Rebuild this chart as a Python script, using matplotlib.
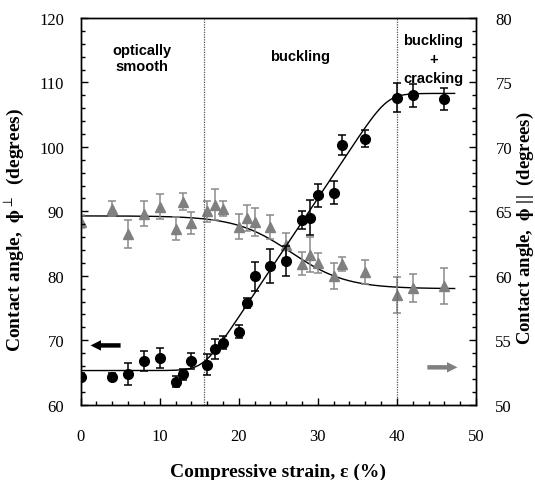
import numpy as np
import matplotlib
matplotlib.use("Agg")
import matplotlib.pyplot as plt
from matplotlib.ticker import MultipleLocator

plt.rcParams['mathtext.fontset'] = 'stix'

# ---- data ----
strain = [0, 4, 6, 8, 10, 12, 13, 14, 16, 17, 18, 20, 21, 22, 24, 26, 28, 29, 30, 32, 33, 36, 40, 42, 46]
phi_perp = [64.35, 64.35, 64.8, 66.8, 67.3, 63.6, 64.7, 66.8, 66.2, 68.6, 69.6, 71.3, 75.8, 79.9, 81.5,
            82.3, 88.6, 89.0, 92.5, 92.9, 100.3, 101.3, 107.65, 108.0, 107.4]
phi_perp_err = [0.5, 0.5, 1.7, 1.5, 1.55, 0.8, 0.8, 1.3, 1.6, 1.55, 1.0, 1.0, 0.8, 2.3, 2.6,
                2.4, 1.4, 2.7, 1.8, 1.8, 1.6, 1.3, 2.2, 1.8, 1.7]
phi_par = [64.21, 65.22, 63.22, 64.83, 65.35, 63.66, 65.74, 64.1, 65.0, 65.53, 65.22, 63.8, 64.5, 64.18, 63.8,
           62.36, 60.94, 61.64, 61.02, 59.98, 60.94, 60.3, 58.5, 59.04, 59.2]
phi_par_err = [0.5, 0.58, 1.09, 1.0, 0.97, 0.92, 0.65, 0.86, 0.82, 1.2, 0.58, 0.97, 1.0, 1.1, 0.95,
               1.0, 0.9, 1.35, 0.78, 1.0, 0.55, 0.93, 1.4, 1.1, 1.4]

# fit-curve parameters
perp_low, perp_high, perp_start, perp_end, perp_round = 65.3, 108.3, 15.5, 38.8, 1.0
par_high, par_low, par_center, par_width = 64.65, 59.0, 26.6, 3.5
fit_range = (0, 47.3)

region_bounds = [15.6, 40.0]
region_labels = ["optically\nsmooth", "buckling", "buckling\n+\ncracking"]

# ---- figure ----
fig = plt.figure(figsize=(5.35, 4.81), dpi=100)
ax = fig.add_axes([0.1508, 0.1565, 0.7389, 0.8040])
ax2 = ax.twinx()

serif = ['Liberation Serif', 'DejaVu Serif']
sans = ['Liberation Sans', 'DejaVu Sans']

xf = np.linspace(fit_range[0], fit_range[1], 400)
def softplus(z):
    return np.logaddexp(0, z)
slope = (perp_high - perp_low) / (perp_end - perp_start)
yperp = perp_low + slope * perp_round * (softplus((xf - perp_start) / perp_round)
                                        - softplus((xf - perp_end) / perp_round))
ypar = par_high + (par_low - par_high) / (1 + np.exp(-(xf - par_center) / par_width))

ax.plot(xf, yperp, color='black', lw=1.0, zorder=2)
ax2.plot(xf, ypar, color='black', lw=1.0, zorder=2)

for b in region_bounds:
    ax.axvline(b, color='#555555', lw=0.9, ls=(0, (1, 1)), zorder=1)

gray = '#808080'
ax2.errorbar(strain, phi_par, yerr=phi_par_err, fmt='^', color=gray, ms=7.5, mec=gray, mfc=gray,
             ecolor='#8a8a8a', elinewidth=1.1, capsize=3, capthick=1.1, zorder=3)
ax.errorbar(strain, phi_perp, yerr=phi_perp_err, fmt='o', color='black', ms=7,
            ecolor='black', elinewidth=1.1, capsize=3, capthick=1.1, zorder=4)

# put primary axes above twin so circles draw over triangles
ax.set_zorder(ax2.get_zorder() + 1)
ax.patch.set_visible(False)

# arrows
ax.annotate('', xy=(0.9, 69.2), xytext=(5.4, 69.2),
            arrowprops=dict(arrowstyle='simple,head_length=0.75,head_width=0.75,tail_width=0.32',
                            color='black', lw=0, mutation_scale=10))
ax2.annotate('', xy=(48.0, 52.9), xytext=(43.5, 52.9),
             arrowprops=dict(arrowstyle='simple,head_length=0.75,head_width=0.75,tail_width=0.32',
                             color=gray, lw=0, mutation_scale=10))

# region labels
ax.text(7.7, 113.8, region_labels[0], ha='center', va='center', fontsize=10.5,
        fontweight='bold', family=sans, linespacing=1.25)
ax.text(27.8, 114.1, region_labels[1], ha='center', va='center', fontsize=10.5,
        fontweight='bold', family=sans)
ax.text(44.6, 113.6, region_labels[2], ha='center', va='center', fontsize=10.5,
        fontweight='bold', family=sans, linespacing=1.45)

# axes limits / ticks
ax.set_xlim(0, 50)
ax.set_ylim(60, 120)
ax2.set_ylim(50, 80)
ax.xaxis.set_major_locator(MultipleLocator(10))
ax.xaxis.set_minor_locator(MultipleLocator(2))
ax.yaxis.set_major_locator(MultipleLocator(10))
ax.yaxis.set_minor_locator(MultipleLocator(2))
ax2.yaxis.set_major_locator(MultipleLocator(5))
ax2.yaxis.set_minor_locator(MultipleLocator(1))

ax.tick_params(axis='x', which='both', direction='in', top=False, pad=17)
ax.tick_params(axis='y', which='both', direction='in', right=False, pad=12)
ax2.tick_params(axis='y', which='both', direction='in', pad=14)
for a in (ax, ax2):
    a.tick_params(which='major', length=5, width=1.0, labelsize=12)
    a.tick_params(which='minor', length=3, width=1.0)
    for lab in a.get_xticklabels() + a.get_yticklabels():
        lab.set_family(serif)
    for s in a.spines.values():
        s.set_linewidth(1.0)

ax.set_xlabel('Compressive strain, ε (%)', fontsize=14, fontweight='bold', family=serif)
ax.xaxis.set_label_coords(0.5, -0.15)
ax.set_ylabel(r'Contact angle,  $\mathbf{\phi}^{\perp}$  (degrees)', fontsize=14, fontweight='bold',
              family=serif)
ax.yaxis.set_label_coords(-0.138, 0.455)
ax2.set_ylabel(r'Contact angle,  $\mathbf{\phi}$ ||  (degrees)', fontsize=13.5, fontweight='bold',
               family=serif, rotation=90)
ax2.yaxis.set_label_coords(1.098, 0.46)

fig.savefig('out.png', dpi=100)
